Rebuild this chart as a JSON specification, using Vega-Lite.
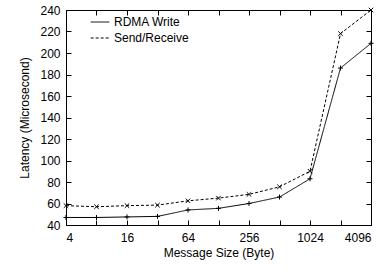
{
  "$schema": "https://vega.github.io/schema/vega-lite/v6.json",
  "width": 305,
  "height": 215,
  "padding": {"left": 18, "top": 4, "right": 16, "bottom": 5},
  "background": "white",
  "config": {
    "font": "Liberation Sans",
    "view": {"stroke": "black", "strokeWidth": 1},
    "axis": {
      "grid": false,
      "domain": false,
      "tickColor": "black",
      "tickSize": -5,
      "labelColor": "black",
      "titleColor": "black",
      "labelFontSize": 12,
      "titleFontSize": 12,
      "titleFontWeight": "normal",
      "labelFont": "Liberation Sans",
      "titleFont": "Liberation Sans"
    }
  },
  "data": {
    "values": [
      {"size": 4, "series": "RDMA Write", "latency": 47},
      {"size": 8, "series": "RDMA Write", "latency": 47},
      {"size": 16, "series": "RDMA Write", "latency": 47.5},
      {"size": 32, "series": "RDMA Write", "latency": 48},
      {"size": 64, "series": "RDMA Write", "latency": 54},
      {"size": 128, "series": "RDMA Write", "latency": 55.5},
      {"size": 256, "series": "RDMA Write", "latency": 60},
      {"size": 512, "series": "RDMA Write", "latency": 66},
      {"size": 1024, "series": "RDMA Write", "latency": 83},
      {"size": 2048, "series": "RDMA Write", "latency": 186},
      {"size": 4096, "series": "RDMA Write", "latency": 209},
      {"size": 4, "series": "Send/Receive", "latency": 58},
      {"size": 8, "series": "Send/Receive", "latency": 57},
      {"size": 16, "series": "Send/Receive", "latency": 58},
      {"size": 32, "series": "Send/Receive", "latency": 58.5},
      {"size": 64, "series": "Send/Receive", "latency": 62.5},
      {"size": 128, "series": "Send/Receive", "latency": 65},
      {"size": 256, "series": "Send/Receive", "latency": 68.5},
      {"size": 512, "series": "Send/Receive", "latency": 75.5},
      {"size": 1024, "series": "Send/Receive", "latency": 90},
      {"size": 2048, "series": "Send/Receive", "latency": 218},
      {"size": 4096, "series": "Send/Receive", "latency": 240}
    ]
  },
  "layer": [
    {
      "mark": {"type": "line", "color": "black", "strokeWidth": 1},
      "encoding": {
        "x": {
          "field": "size", "type": "quantitative",
          "scale": {"type": "log", "base": 2, "domain": [4, 4096], "nice": false},
          "axis": {
            "title": "Message Size (Byte)",
            "values": [4, 8, 16, 32, 64, 128, 256, 512, 1024, 2048, 4096],
            "format": "d",
            "labelExpr": "indexof([4,16,64,256,1024,4096], datum.value) >= 0 ? datum.label : ''",
            "labelPadding": 12,
            "titlePadding": 4
          }
        },
        "y": {
          "field": "latency", "type": "quantitative",
          "scale": {"domain": [40, 240], "nice": false, "zero": false},
          "axis": {
            "title": "Latency (Microsecond)",
            "values": [40, 60, 80, 100, 120, 140, 160, 180, 200, 220, 240],
            "format": "d",
            "labelPadding": 11,
            "titlePadding": 8
          }
        },
        "strokeDash": {
          "field": "series", "type": "nominal",
          "scale": {"domain": ["RDMA Write", "Send/Receive"], "range": [[1, 0], [3, 2]]},
          "legend": {
            "title": null,
            "orient": "none",
            "legendX": 24,
            "legendY": 2,
            "symbolType": "stroke",
            "symbolStrokeColor": "black",
            "symbolStrokeWidth": 1,
            "symbolSize": 350,
            "labelFontSize": 12,
            "labelColor": "black",
            "rowPadding": 0
          }
        }
      }
    },
    {
      "transform": [{"filter": "datum.series == 'RDMA Write'"}],
      "mark": {"type": "point", "filled": false, "color": "black", "strokeWidth": 1, "size": 25, "opacity": 1, "shape": "M-1,0L1,0M0,-1L0,1"},
      "encoding": {
        "x": {"field": "size", "type": "quantitative", "axis": null},
        "y": {"field": "latency", "type": "quantitative", "axis": null}
      }
    },
    {
      "transform": [{"filter": "datum.series == 'Send/Receive'"}],
      "mark": {"type": "point", "filled": false, "color": "black", "strokeWidth": 1, "size": 20, "opacity": 1, "shape": "M-1,-1L1,1M-1,1L1,-1"},
      "encoding": {
        "x": {"field": "size", "type": "quantitative", "axis": null},
        "y": {"field": "latency", "type": "quantitative", "axis": null}
      }
    },
    {
      "mark": {"type": "point", "opacity": 0},
      "encoding": {
        "x": {
          "field": "size", "type": "quantitative",
          "axis": {"orient": "top", "title": null, "labels": false, "values": [4, 8, 16, 32, 64, 128, 256, 512, 1024, 2048, 4096]}
        },
        "y": {
          "field": "latency", "type": "quantitative",
          "axis": {"orient": "right", "title": null, "labels": false, "values": [40, 60, 80, 100, 120, 140, 160, 180, 200, 220, 240]}
        }
      }
    }
  ],
  "resolve": {"axis": {"x": "independent", "y": "independent"}}
}
